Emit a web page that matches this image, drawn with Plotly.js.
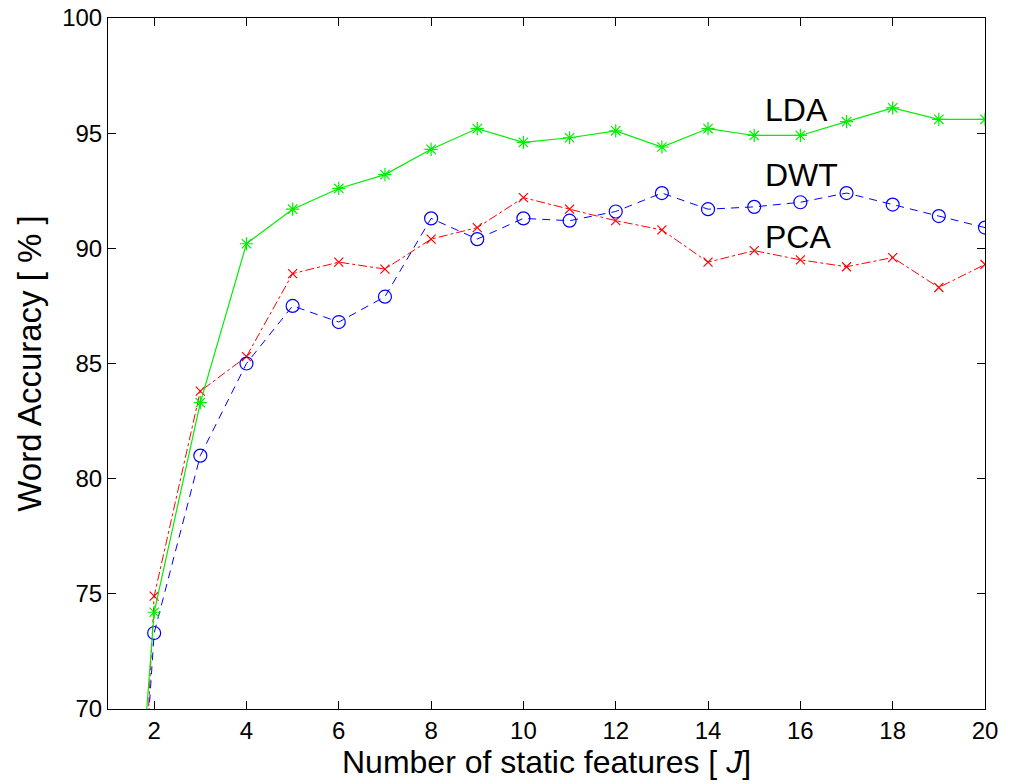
<!DOCTYPE html>
<html>
<head>
<meta charset="utf-8">
<script src="https://cdn.plot.ly/plotly-3.0.1.min.js"></script>
<style>html,body{margin:0;padding:0;background:#fff;}#chart{width:1015px;height:784px;}</style>
</head>
<body>
<div id="chart"></div>
<script>
const features = [1,2,3,4,5,6,7,8,9,10,11,12,13,14,15,16,17,18,19,20];
const lda = [48,74.2,83.3,90.2,91.7,92.6,93.2,94.3,95.2,94.6,94.8,95.1,94.4,95.2,94.9,94.9,95.5,96.1,95.6,95.6];
const dwt = [43,73.3,81.0,85.0,87.5,86.8,87.9,91.3,90.4,91.3,91.2,91.6,92.4,91.7,91.8,92.0,92.4,91.9,91.4,90.9];
const pca = [35,74.9,83.8,85.3,88.9,89.4,89.1,90.4,90.9,92.2,91.7,91.2,90.8,89.4,89.9,89.5,89.2,89.6,88.3,89.3];
const seriesNames = ['LDA','DWT','PCA'];
const xTicks = [2,4,6,8,10,12,14,16,18,20];
const yTicks = [70,75,80,85,90,95,100];

const font = 'Liberation Sans, Arial, Helvetica, sans-serif';

const traces = [
  {x: features, y: pca, name: seriesNames[2], mode: 'lines+markers',
   line: {color: '#ff0000', width: 1, dash: 'dashdot'},
   marker: {symbol: 'x-thin-open', size: 9, color: '#ff0000', line: {color: '#ff0000', width: 1.2}}},
  {x: features, y: dwt, name: seriesNames[1], mode: 'lines+markers',
   line: {color: '#0000ff', width: 1, dash: '8px,6px'},
   marker: {symbol: 'circle-open', size: 13, color: '#0000ff', line: {color: '#0000ff', width: 1.2}}},
  {x: features, y: lda, name: seriesNames[0], mode: 'lines+markers',
   line: {color: '#00ee00', width: 1.2},
   marker: {symbol: 'asterisk-open', size: 11, color: '#00ee00', line: {color: '#00ee00', width: 1.2}}}
];

const axisCommon = {
  showline: true, linecolor: '#000', linewidth: 1, mirror: 'ticks',
  ticks: 'inside', ticklen: 8, tickcolor: '#000', tickwidth: 1,
  showgrid: false, zeroline: false,
  tickfont: {family: font, size: 24, color: '#000'}
};

const layout = {
  width: 1015, height: 784,
  margin: {l: 108, r: 30, t: 18, b: 75},
  paper_bgcolor: '#fff', plot_bgcolor: '#fff',
  showlegend: false,
  xaxis: Object.assign({}, axisCommon, {
    range: [1, 20], tickvals: xTicks, ticktext: xTicks.map(String),
    title: {text: 'Number of static features [ <i>J</i>]', font: {family: font, size: 32, color: '#000'}, standoff: 2}
  }),
  yaxis: Object.assign({}, axisCommon, {
    range: [70, 100], tickvals: yTicks, ticktext: yTicks.map(String),
    title: {text: 'Word Accuracy [ % ]', font: {family: font, size: 33, color: '#000'}, standoff: 10}
  }),
  annotations: [
    {x: 15.2, y: 96.0, text: seriesNames[0]},
    {x: 15.2, y: 93.2, text: seriesNames[1]},
    {x: 15.2, y: 90.5, text: seriesNames[2]}
  ].map(a => Object.assign(a, {xref: 'x', yref: 'y', xanchor: 'left', yanchor: 'middle',
    showarrow: false, font: {family: font, size: 32, color: '#000'}}))
};

Plotly.newPlot('chart', traces, layout, {displayModeBar: false, staticPlot: true});
</script>
</body>
</html>
